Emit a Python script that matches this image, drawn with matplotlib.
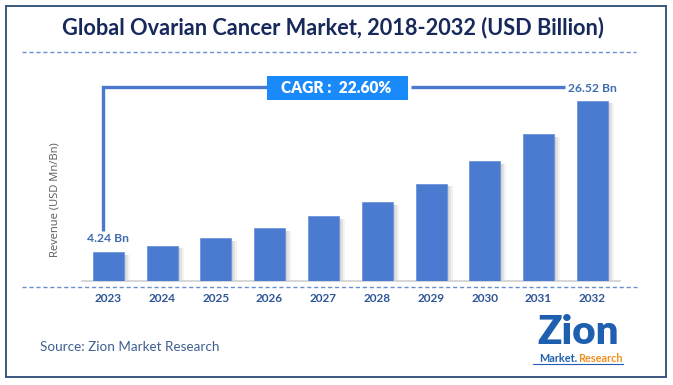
import matplotlib
matplotlib.use("Agg")
import matplotlib.pyplot as plt
from matplotlib.patches import Rectangle
from matplotlib.lines import Line2D

years = ["2023", "2024", "2025", "2026", "2027", "2028", "2029", "2030", "2031", "2032"]
revenue = [4.24, 5.15, 6.30, 7.75, 9.55, 11.60, 14.30, 17.65, 21.60, 26.52]
first_label = "4.24 Bn"
last_label = "26.52 Bn"
cagr_text = "CAGR :  22.60%"
title = "Global Ovarian Cancer Market, 2018-2032 (USD Billion)"
ylabel = "Revenue (USD Mn/Bn)"
source = "Source: Zion Market Research"

W, H = 673, 385
fig = plt.figure(figsize=(W / 100, H / 100), dpi=100)
fig.patch.set_facecolor("white")

def px(x, y):
    """pixel (from top-left) -> figure fraction"""
    return x / W, 1 - y / H

FONT = ["Lato", "DejaVu Sans"]

# outer frame
fig.add_artist(Rectangle(px(6, 377), 660 / W, 371 / H, transform=fig.transFigure,
                         fill=False, edgecolor="#2C4A74", lw=1.3))

# title
t = fig.text(*px(333, 28), title, ha="center", va="center", fontsize=15,
             fontweight="bold", color="#16295A", family=FONT)
fig.canvas.draw()
r = fig.canvas.get_renderer()
w = t.get_window_extent(r).width
t.set_fontsize(15 * 544 / w)

# dashed line under title
fig.add_artist(Line2D([22 / W, 636 / W], [1 - 52 / H] * 2, transform=fig.transFigure,
                      color="#6A8FD0", lw=1.0, ls=(0, (3, 2))))

# axes: baseline at y=281px, x from 82 to 620 px
x0, x1 = 82, 620
ytop = 60
ybase = 281
ax = fig.add_axes([x0 / W, 1 - ybase / H, (x1 - x0) / W, (ybase - ytop) / H])
ax.set_facecolor("none")
spacing = 53.8
xs = list(range(len(years)))
ax.set_xlim((x0 - 108.2) / spacing, (x1 - 108.2) / spacing)
per_px = 26.52 / 180.0
ax.set_ylim(0, (ybase - ytop) * per_px)

bw = 31 / spacing
# shadows
for k, a in [(2, 0.18), (4, 0.14), (6, 0.09)]:
    ax.bar([x + k / spacing for x in xs], [v - 0.35 for v in revenue], width=bw,
           color="#7f7f7f", alpha=a, zorder=1, linewidth=0)
ax.bar(xs, revenue, width=bw, color="#4B7BD0", zorder=3, edgecolor="#6E95DA", linewidth=0.6)

for s in ["top", "right", "left"]:
    ax.spines[s].set_visible(False)
ax.spines["bottom"].set_color("#D0D0D0")
ax.spines["bottom"].set_linewidth(1.2)
ax.set_yticks([])
ax.set_xticks(xs)
ax.set_xticklabels(years, fontsize=8.5, fontweight="bold", color="#2E5596", family=FONT)
ax.tick_params(axis="x", length=0, pad=9)

# dashed line below axis
fig.add_artist(Line2D([22 / W, 637 / W], [1 - 287 / H] * 2, transform=fig.transFigure,
                      color="#6A8FD0", lw=1.0, ls=(0, (3, 2))))

# y label
fig.text(*px(55, 200), ylabel, rotation=90, ha="center", va="center", fontsize=8,
         color="#595959", family=["Open Sans", "DejaVu Sans"])

# value labels
ax.text(xs[0], revenue[0] + 2.0, first_label, ha="center", va="center", fontsize=8.7,
        fontweight="bold", color="#3D6CB0", family=FONT, zorder=5)
ax.text(xs[-1], revenue[-1] + 1.9, last_label, ha="center", va="center", fontsize=8.7,
        fontweight="bold", color="#3D6CB0", family=FONT, zorder=5)

# bracket lines
def dx(p):
    return (p - 108.2) / spacing

def dy(p):
    return (ybase - p) * per_px

lc = "#4A78CF"
ax.plot([dx(103), dx(103), dx(267)], [dy(231), dy(87), dy(87)], color=lc, lw=2.4,
        clip_on=False, zorder=4, solid_capstyle="butt", solid_joinstyle="miter")
ax.plot([dx(411), dx(565)], [dy(87), dy(87)], color=lc, lw=2.4, clip_on=False, zorder=4,
        solid_capstyle="butt")

# CAGR box
fig.add_artist(Rectangle(px(267, 99.5), (408 - 267) / W, 23.5 / H, transform=fig.transFigure,
                         facecolor="#1A8AFA", edgecolor="none"))
fig.text(*px(336, 88), cagr_text, ha="center", va="center", fontsize=11.2,
         fontweight="heavy", color="white", family=FONT)

# source
fig.text(*px(40, 347), source, ha="left", va="center", fontsize=9.7,
         color="#3F5F8F", family=FONT)

# logo (approximation)
fig.text(*px(578, 333), "Zion", ha="center", va="center", fontsize=29,
         fontweight="heavy", color="#1F5FAF", family=FONT)
fig.text(*px(577, 358), "Market.", ha="right", va="center", fontsize=7.8,
         fontweight="bold", color="#1F5FAF", family=FONT)
fig.text(*px(578, 358), "Research", ha="left", va="center", fontsize=7.8,
         fontweight="bold", color="#F0901E", family=FONT)
fig.add_artist(Line2D([533 / W, 623 / W], [1 - 364 / H] * 2, transform=fig.transFigure,
                      color="#1F5FAF", lw=0.8))

fig.savefig("out.png", dpi=100, facecolor="white")
